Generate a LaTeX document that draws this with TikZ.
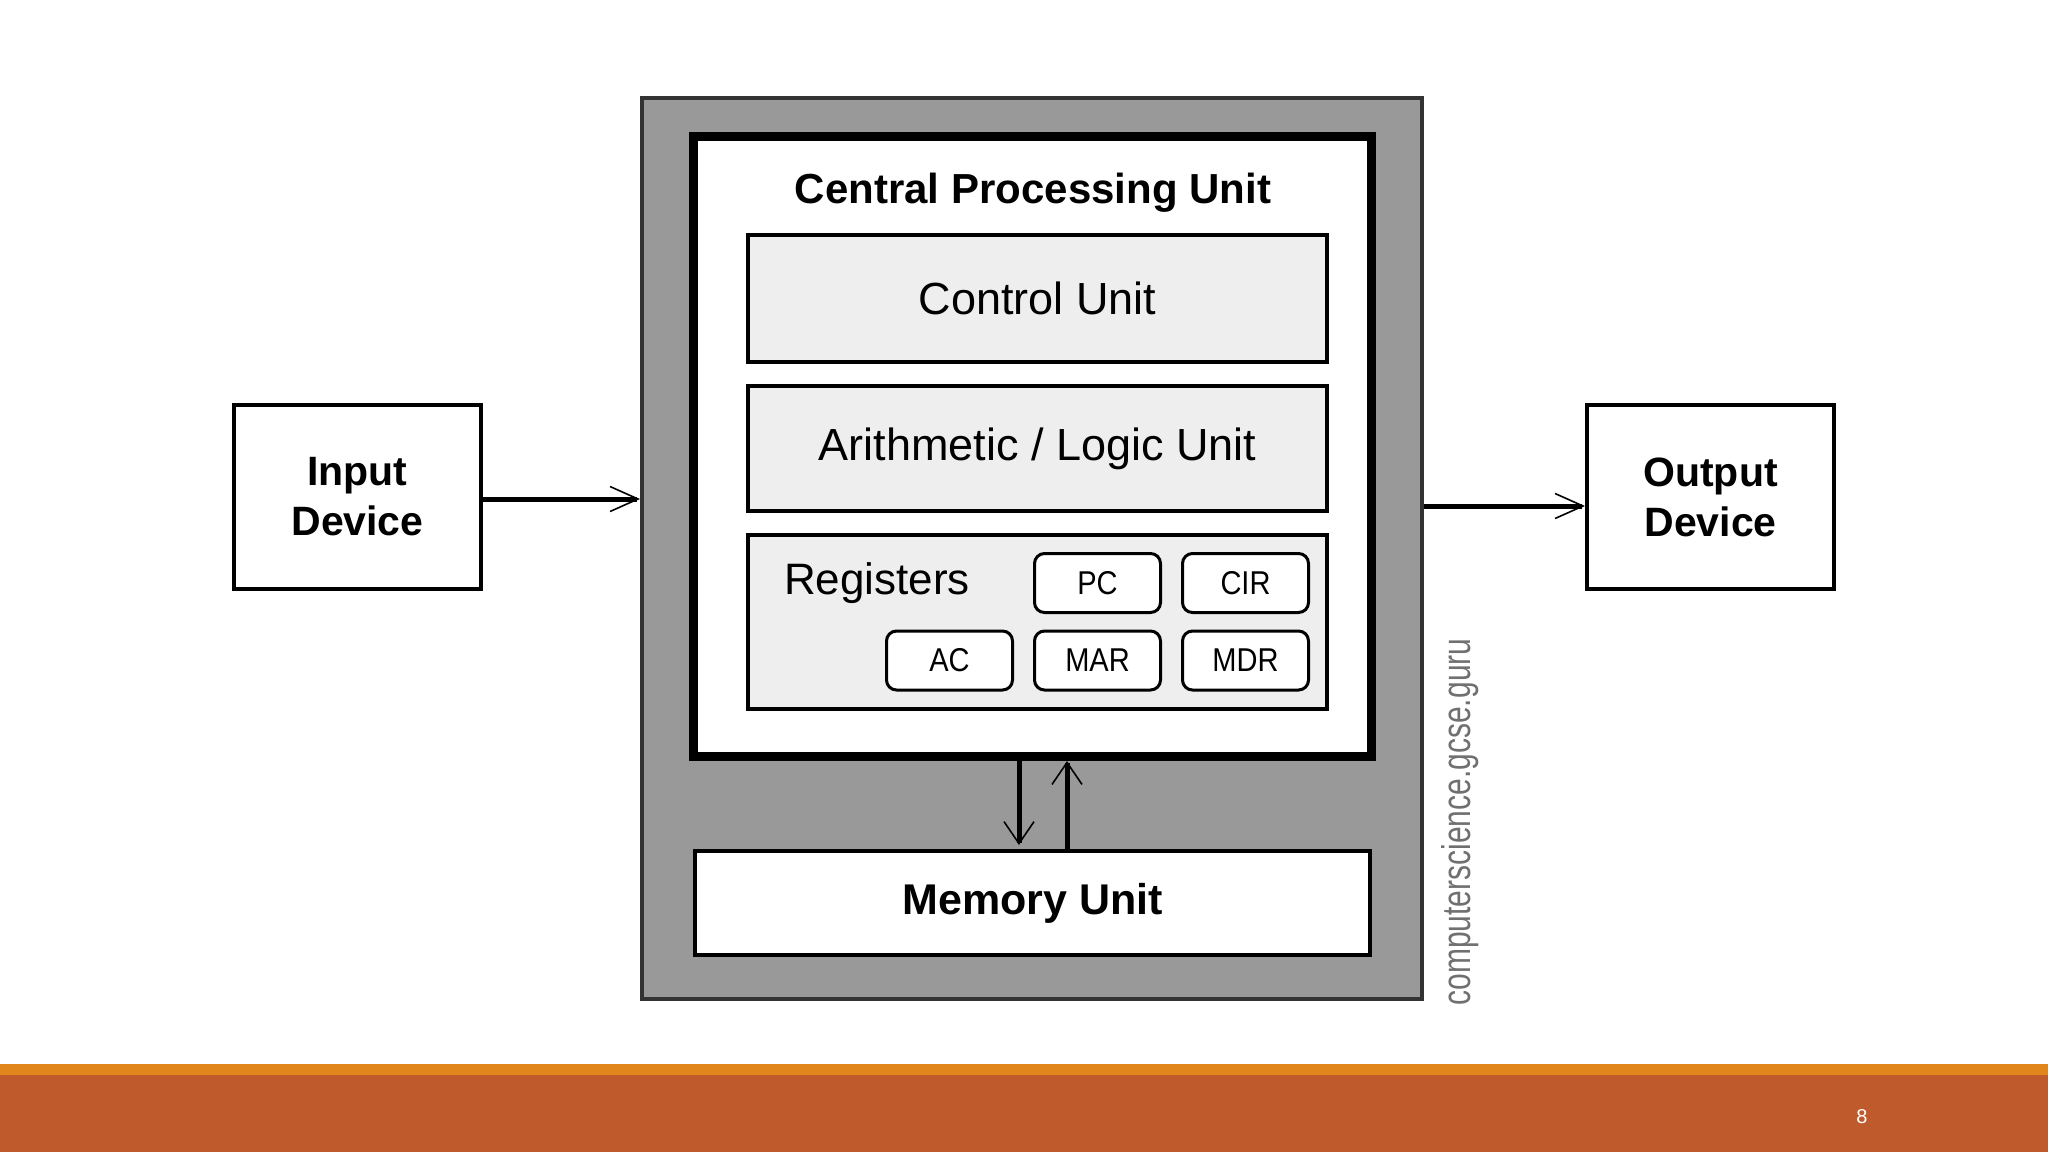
\documentclass[tikz,border=0pt]{standalone}
\usepackage{fontspec}
\setmainfont{Liberation Sans}
\newfontfamily\wmfont[FakeStretch=0.75]{Liberation Sans}
\newfontfamily\regfont[FakeStretch=0.88]{Liberation Sans}
\usetikzlibrary{arrows.meta}
\definecolor{outergray}{HTML}{999999}
\definecolor{innergray}{HTML}{EEEEEE}
\definecolor{wmgray}{HTML}{707070}
\definecolor{barorange}{HTML}{E0861A}
\definecolor{barrust}{HTML}{BE5A2C}
\begin{document}
\begin{tikzpicture}[x=0.5pt,y=-0.5pt,
  unitbox/.style={draw=black, line width=2pt, fill=innergray, minimum width=289.5pt, inner sep=0pt, font=\fontsize{22.5}{27}\selectfont},
  regbox/.style={draw=black, line width=1.5pt, fill=white, rounded corners=5pt, minimum width=63pt, minimum height=29.5pt, inner sep=0pt, font=\regfont\fontsize{16.5}{19}\selectfont},
  devbox/.style={draw=black, line width=2pt, fill=white, minimum width=123.5pt, minimum height=92pt, align=center, inner sep=0pt, font=\bfseries\fontsize{20.5}{25}\selectfont},
  bus/.style={line width=2.5pt, -{Straight Barb[length=11pt, width=15pt, line width=0.8pt]}},
  iobus/.style={line width=2.5pt, -{Straight Barb[length=14pt, width=12.5pt, line width=0.8pt]}},
]
\useasboundingbox (0,0) rectangle (2048,1152);
\fill[white] (0,0) rectangle (2048,1152);
% bottom bars
\fill[barorange] (0,1064) rectangle (2048,1075);
\fill[barrust] (0,1075) rectangle (2048,1152);
\node[text=white, font=\fontsize{10}{12}\selectfont] (pagenum) at (1862,1117) {8};

% outer gray box
\node[draw={black!80}, line width=2pt, fill=outergray, minimum width=390pt, minimum height=450.5pt, inner sep=0pt] (outer) at (1032,548.5) {};
% CPU box
\node[draw=black, line width=4.5pt, fill=white, minimum width=339pt, minimum height=310pt, inner sep=0pt] (cpu) at (1032.5,446.5) {};
\node[font=\bfseries\fontsize{21}{25}\selectfont] (title) at (1033,193) {Central Processing Unit};

\node[unitbox, minimum height=63.5pt] (cu) at (1037.5,298.5) {Control Unit};
\node[unitbox, minimum height=62.5pt] (alu) at (1037.5,448.5) {Arithmetic / Logic Unit};
\node[unitbox, minimum height=87pt] (regs) at (1037.5,622) {};
\node[font=\fontsize{22}{26}\selectfont] (regtitle) at (877,583) {Registers};

\node[regbox] (pc) at (1097.5,583) {PC};
\node[regbox] (cir) at (1245.5,583) {CIR};
\node[regbox] (ac) at (949.5,660.5) {AC};
\node[regbox] (mar) at (1097.5,660.5) {MAR};
\node[regbox] (mdr) at (1245.5,660.5) {MDR};

% memory unit
\node[draw=black, line width=2pt, fill=white, minimum width=337.5pt, minimum height=52pt, inner sep=0pt, font=\bfseries\fontsize{21.5}{26}\selectfont] (mem) at (1032.5,903) {\raisebox{-2pt}{Memory Unit}};

% buses between CPU and memory
\coordinate (dx) at (1019,0);
\coordinate (ux) at (1067,0);
\draw[bus, shorten >=2pt] (dx |- cpu.south) -- (dx |- mem.north);
\draw[bus] (ux |- mem.north) -- (ux |- cpu.south);

% devices
\node[devbox] (in) at (357.5,497) {Input\\Device};
\node[devbox] (out) at (1710.5,497) {Output\\Device};
\coordinate (iny) at (0,499);
\coordinate (outy) at (0,506);
\draw[iobus] (in.east |- iny) -- (outer.west |- iny);
\draw[iobus] (outer.east |- outy) -- (out.west |- outy);

% watermark
\node[rotate=90, text=wmgray, font=\wmfont\fontsize{20}{24}\selectfont] (wm) at (1460,822) {computerscience.gcse.guru};
\end{tikzpicture}
\end{document}
